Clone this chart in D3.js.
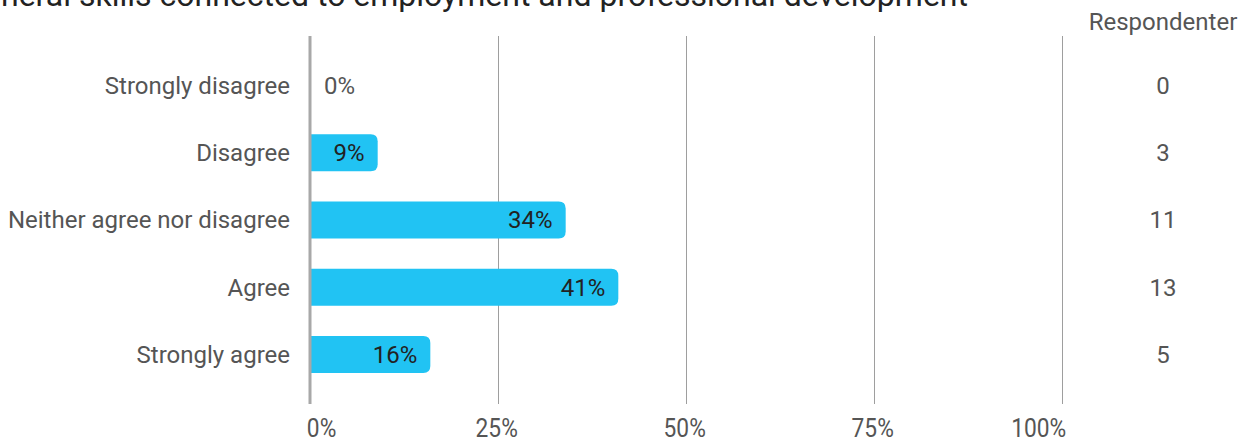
<!DOCTYPE html>
<html>
<head>
<meta charset="utf-8">
<script src="https://cdn.jsdelivr.net/npm/d3@7"></script>
<style>
  body { margin: 0; background: #fff; }
  svg { display: block; font-family: Roboto, "Noto Sans", sans-serif; }
</style>
</head>
<body>
<svg width="1256" height="441"></svg>
<script>
// chart data
const categories = ['Strongly disagree', 'Disagree', 'Neither agree nor disagree', 'Agree', 'Strongly agree'];
const percents = [0, 9, 34, 41, 16];
const respondents = [0, 3, 11, 13, 5];
const tickValues = [0, 25, 50, 75, 100];
const title = 'General skills connected to employment and professional development';
const countHeader = 'Respondenter';

let svg = d3.select('svg');
let margin = { top: 36, left: 310, right: 194, bottom: 39 };
let width = 1256, height = 441;
let innerWidth = width - margin.left - margin.right;   // 752
let innerHeight = height - margin.top - margin.bottom;

const xScale = d3.scaleLinear().domain([0, 100]).range([0, innerWidth]);
const yScale = d3.scaleBand()
    .domain(categories)
    .range([16, innerHeight - 14])
    .paddingInner(0.45)
    .paddingOuter(0.225);

const data = categories.map((c, i) => ({ cat: c, pct: percents[i], n: respondents[i] }));

// title (cut off at the top, as in the original)
svg.append('text')
    .attr('x', 968)
    .attr('y', 6)
    .attr('text-anchor', 'end')
    .style('font-size', '32px')
    .style('fill', '#222')
    .text(title);

const g = svg.append('g').attr('transform', `translate(${margin.left},${margin.top})`);

// gridlines
g.selectAll('.grid')
    .data(tickValues.slice(1))
    .enter()
    .append('line')
    .attr('x1', d => xScale(d) + 0.5)
    .attr('x2', d => xScale(d) + 0.5)
    .attr('y1', 0)
    .attr('y2', innerHeight + 2)
    .style('stroke', '#9e9e9e')
    .style('stroke-width', 1);

// bars: square at the axis, rounded at the end
const r = 7;
g.selectAll('.bar')
    .data(data.filter(d => d.pct > 0))
    .enter()
    .append('path')
    .attr('d', d => {
        const x0 = xScale(0), x1 = xScale(d.pct);
        const y0 = yScale(d.cat), h = yScale.bandwidth();
        return `M${x0},${y0} H${x1 - r} Q${x1},${y0} ${x1},${y0 + r} V${y0 + h - r} Q${x1},${y0 + h} ${x1 - r},${y0 + h} H${x0} Z`;
    })
    .style('fill', '#21c3f3');

// axis line at 0
g.append('line')
    .attr('x1', 0).attr('x2', 0)
    .attr('y1', 0).attr('y2', innerHeight + 2)
    .style('stroke', '#a8a8a8')
    .style('stroke-width', 3);

// value labels
g.selectAll('.val')
    .data(data)
    .enter()
    .append('text')
    .attr('x', d => d.pct > 0 ? xScale(d.pct) - 13 : xScale(0) + 14)
    .attr('y', d => yScale(d.cat) + yScale.bandwidth() / 2)
    .attr('dy', '0.35em')
    .attr('text-anchor', d => d.pct > 0 ? 'end' : 'start')
    .style('font-size', '24px')
    .style('fill', d => d.pct > 0 ? '#222' : '#555')
    .text(d => d.pct + '%');

// category labels
g.selectAll('.cat')
    .data(data)
    .enter()
    .append('text')
    .attr('x', -20)
    .attr('y', d => yScale(d.cat) + yScale.bandwidth() / 2)
    .attr('dy', '0.35em')
    .attr('text-anchor', 'end')
    .style('font-size', '24px')
    .style('fill', '#555')
    .text(d => d.cat);

// respondents column
g.append('text')
    .attr('x', 853)
    .attr('y', -6)
    .attr('text-anchor', 'middle')
    .style('font-size', '24px')
    .style('fill', '#555')
    .text(countHeader);

g.selectAll('.cnt')
    .data(data)
    .enter()
    .append('text')
    .attr('x', 853)
    .attr('y', d => yScale(d.cat) + yScale.bandwidth() / 2)
    .attr('dy', '0.35em')
    .attr('text-anchor', 'middle')
    .style('font-size', '24px')
    .style('fill', '#555')
    .text(d => d.n);

// x axis tick labels (narrow font as in the original)
const xAxis = d3.axisBottom(xScale)
    .tickValues(tickValues)
    .tickSize(0)
    .tickFormat(d => d + '%');
const ax = g.append('g')
    .attr('transform', `translate(0,${innerHeight})`)
    .call(xAxis);
ax.select('.domain').remove();
ax.selectAll('text')
    .attr('y', 17)
    .attr('transform', 'scale(0.91,1)')
    .style('font-family', 'Roboto, sans-serif')
    .style('font-size', '25px')
    .style('fill', '#555')
    .attr('text-anchor', (d, i) => i === 0 ? 'start' : (i === tickValues.length - 1 ? 'end' : 'middle'))
    .attr('x', (d, i) => i === 0 ? -4 : (i === tickValues.length - 1 ? 4 : -2));
</script>
</body>
</html>
